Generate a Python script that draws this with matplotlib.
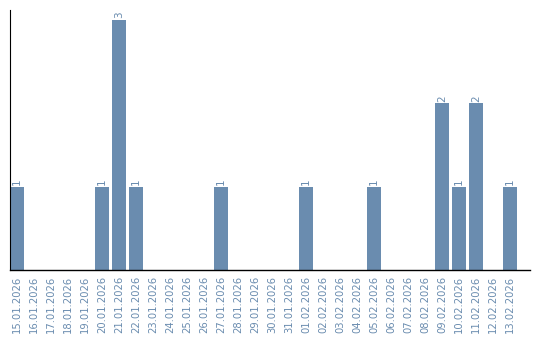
import matplotlib
matplotlib.use("Agg")
import matplotlib.pyplot as plt
import numpy as np
from datetime import date, timedelta

start = date(2026, 1, 15)
dates = [(start + timedelta(days=i)).strftime("%d.%m.%Y") for i in range(30)]
counts = [1, 0, 0, 0, 0, 1, 3, 1, 0, 0,
          0, 0, 1, 0, 0, 0, 0, 1, 0, 0,
          0, 1, 0, 0, 0, 2, 1, 2, 0, 1]

bar_color = "#6a8caf"

fig = plt.figure(figsize=(5.4, 3.4), dpi=100)
ax = fig.add_axes([10 / 540, 70 / 340, 520 / 540, 260 / 340])

x = np.arange(len(dates))
bars = ax.bar(x, counts, width=0.82, color=bar_color)

for xi, c in zip(x, counts):
    if c > 0:
        ax.text(xi, c + 0.02, str(c), rotation=90, ha="center", va="bottom",
                fontsize=7.5, color=bar_color)

ax.set_xlim(-0.41, 30.18)
ax.set_ylim(0, 3.12)
ax.set_xticks(x)
ax.set_xticklabels(dates, rotation=90, fontsize=7.2, color=bar_color)
ax.tick_params(axis="x", length=0, pad=4)
ax.set_yticks([])
ax.spines["top"].set_visible(False)
ax.spines["right"].set_visible(False)
ax.spines["left"].set_linewidth(0.8)
ax.spines["bottom"].set_linewidth(1.0)

fig.savefig("out.png", dpi=100)
